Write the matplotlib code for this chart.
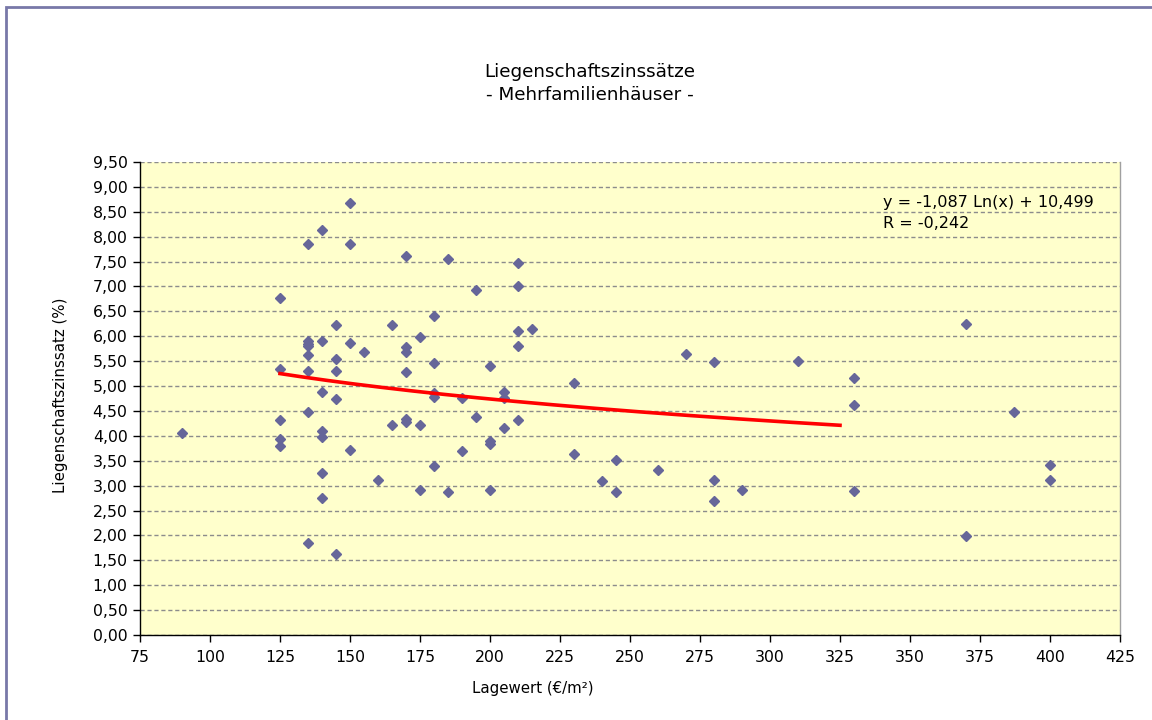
import numpy as np
import matplotlib
matplotlib.use("Agg")
import matplotlib.pyplot as plt
from matplotlib.patches import Rectangle
from matplotlib.ticker import FuncFormatter, MultipleLocator

# --- data ---
lagewert = [
    90,
    125, 125, 125, 125, 125,
    135, 135, 135, 135, 135, 135, 135, 135,
    140, 140, 140, 140, 140, 140, 140,
    145, 145, 145, 145, 145,
    150, 150, 150, 150,
    155, 160, 165, 165,
    170, 170, 170, 170, 170, 170,
    175, 175, 175,
    180, 180, 180, 180, 180,
    185, 185, 190, 190, 195, 195,
    200, 200, 200, 200,
    205, 205, 205,
    210, 210, 210, 210, 210,
    215, 230, 230, 240, 245, 245, 260, 270,
    280, 280, 280, 290, 310,
    330, 330, 330, 370, 370, 387, 400, 400,
]
zinssatz = [
    4.05,
    6.77, 5.34, 4.32, 3.94, 3.80,
    7.85, 5.90, 5.85, 5.80, 5.62, 5.30, 4.48, 1.84,
    8.13, 5.90, 4.88, 4.09, 3.97, 3.26, 2.76,
    6.22, 5.55, 5.31, 4.74, 1.63,
    8.68, 7.85, 5.86, 3.72,
    5.69, 3.11, 6.22, 4.22,
    7.61, 5.79, 5.68, 5.29, 4.34, 4.27,
    5.98, 4.22, 2.92,
    6.40, 5.46, 4.87, 4.79, 3.39,
    7.55, 2.87, 4.77, 3.70, 6.93, 4.38,
    5.41, 3.90, 3.83, 2.92,
    4.88, 4.76, 4.16,
    7.48, 7.01, 6.11, 5.81, 4.32,
    6.14, 5.06, 3.64, 3.09, 3.51, 2.88, 3.32, 5.65,
    5.48, 3.11, 2.69, 2.92, 5.51,
    5.17, 4.61, 2.90, 6.24, 1.98, 4.47, 3.42, 3.11,
]

# logarithmic trend line as given in the chart
trend_a = -1.087
trend_b = 10.499
trend_range = (125, 325)

title_lines = ["Liegenschaftszinssätze", "- Mehrfamilienhäuser -"]
x_label = "Lagewert (€/m²)"
y_label = "Liegenschaftszinssatz (%)"
eq_lines = ["y = -1,087 Ln(x) + 10,499", "R = -0,242"]

W, H = 1152, 720
fig = plt.figure(figsize=(W / 100, H / 100), dpi=100)
fig.patch.set_facecolor("white")

# outer chart border (left & top visible, rest cropped)
fig.patches.append(Rectangle((6 / W, -0.05), 1.2, (H - 7) / H + 0.05,
                             transform=fig.transFigure, fill=False,
                             edgecolor="#7878a8", linewidth=2.0, zorder=0))

L, R, T, B = 140, 1120, 162, 635
ax = fig.add_axes([L / W, (H - B) / H, (R - L) / W, (B - T) / H])
ax.set_facecolor("#ffffcc")

ax.set_xlim(75, 425)
ax.set_ylim(0, 9.5)
ax.xaxis.set_major_locator(MultipleLocator(25))
ax.yaxis.set_major_locator(MultipleLocator(0.5))
ax.yaxis.set_major_formatter(FuncFormatter(lambda v, p: f"{v:.2f}".replace(".", ",")))
ax.xaxis.set_major_formatter(FuncFormatter(lambda v, p: f"{v:.0f}"))

ax.grid(axis="y", color="#8c8c8c", linestyle=(0, (3, 2)), linewidth=1.0)
ax.set_axisbelow(True)

ax.spines["right"].set_color("#a0a0a0")
ax.spines["right"].set_linewidth(1.0)
ax.spines["top"].set_visible(False)
for s in ("left", "bottom"):
    ax.spines[s].set_color("black")
    ax.spines[s].set_linewidth(1.0)

ax.tick_params(axis="both", direction="out", length=5, width=1,
               labelsize=11.3, colors="black", pad=4)
ax.tick_params(axis="x", pad=6)

ax.plot(lagewert, zinssatz, linestyle="none", marker="D", markersize=5.2,
        color="#666699", markeredgecolor="#666699", zorder=3)

tx = np.linspace(trend_range[0], trend_range[1], 200)
ax.plot(tx, trend_a * np.log(tx) + trend_b, color="#ff0000", linewidth=2.6, zorder=4)

fig.text(883 / W, 1 - 202 / H, eq_lines[0], fontsize=11.5, ha="left", va="center")
fig.text(883 / W, 1 - 224 / H, eq_lines[1], fontsize=11.5, ha="left", va="center")

fig.text(590 / W, 1 - 72 / H, title_lines[0], fontsize=13.2, ha="center", va="center")
fig.text(590 / W, 1 - 95 / H, title_lines[1], fontsize=13.2, ha="center", va="center")

fig.text(533 / W, 1 - 688 / H, x_label, fontsize=10.8, ha="center", va="center")
fig.text(60 / W, 1 - 395 / H, y_label, fontsize=10.8, ha="center", va="center",
         rotation=90)

fig.savefig("out.png", dpi=100)
